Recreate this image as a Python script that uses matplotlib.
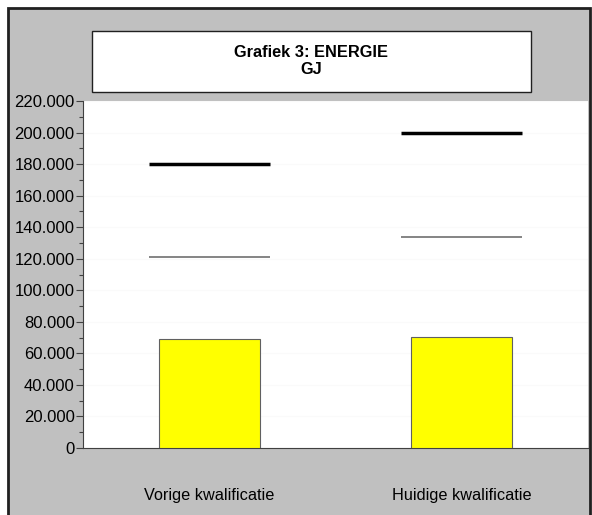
import matplotlib.pyplot as plt
from matplotlib.patches import Rectangle
from matplotlib.ticker import MultipleLocator, FuncFormatter

# data
categories = ['Vorige kwalificatie', 'Huidige kwalificatie']
bar_values = [69000, 70500]
upper_values = [180000, 200000]
middle_values = [121000, 134000]

plt.rcParams['font.family'] = ['Liberation Sans', 'DejaVu Sans']

W, H = 592, 515
fig = plt.figure(figsize=(W / 100, H / 100), dpi=100)
fig.patch.set_facecolor('white')

# grey frame with dark border
fig.add_artist(Rectangle((8 / W, -0.02), (582 / W), 1 - 8 / H + 0.02,
                         transform=fig.transFigure, facecolor='#c0c0c0',
                         edgecolor='#202020', linewidth=2, zorder=-2))

# title box
fig.add_artist(Rectangle((92 / W, 1 - 92 / H), (439 / W), (61 / H),
                         transform=fig.transFigure, facecolor='white',
                         edgecolor='#202020', linewidth=1, zorder=-1))
fig.text(311 / W, 1 - 61 / H, 'Grafiek 3: ENERGIE\nGJ', ha='center', va='center',
         fontsize=11.8, fontweight='bold', linespacing=1.1)

ax = fig.add_axes([83 / W, 1 - 448 / H, 505 / W, 347 / H])
ax.set_zorder(2)
ax.set_facecolor('white')
x = range(len(categories))
ax.bar(x, bar_values, width=0.40, color='#ffff00', edgecolor='#606060',
       linewidth=0.8, zorder=3)
for i in x:
    ax.hlines(upper_values[i], i - 0.24, i + 0.24, color='black', linewidth=2.5, zorder=4)
    ax.hlines(middle_values[i], i - 0.24, i + 0.24, color='#707070', linewidth=1.2, zorder=4)

ax.set_xlim(-0.5, 1.5)
ax.set_ylim(0, 220000)
ax.yaxis.set_major_locator(MultipleLocator(20000))
ax.yaxis.set_minor_locator(MultipleLocator(10000))
ax.yaxis.set_major_formatter(FuncFormatter(lambda v, p: '0' if v == 0 else f'{int(v):,}'.replace(',', '.')))
ax.tick_params(axis='y', which='major', length=5, width=0.8, color='#404040',
               labelsize=12, pad=1, labelcolor='black')
ax.tick_params(axis='y', which='minor', length=3, width=0.8, color='#404040')
ax.grid(axis='y', color='#fafafa', linewidth=0.8, zorder=0)
ax.set_xticks(list(x))
ax.set_xticklabels(categories, fontsize=11.7)
ax.tick_params(axis='x', length=0, pad=29)
for s in ['top', 'right']:
    ax.spines[s].set_visible(False)
ax.spines['left'].set_color('#404040')
ax.spines['bottom'].set_color('#404040')
ax.spines['left'].set_linewidth(0.8)
ax.spines['bottom'].set_linewidth(0.8)

fig.savefig('out.png', dpi=100)
